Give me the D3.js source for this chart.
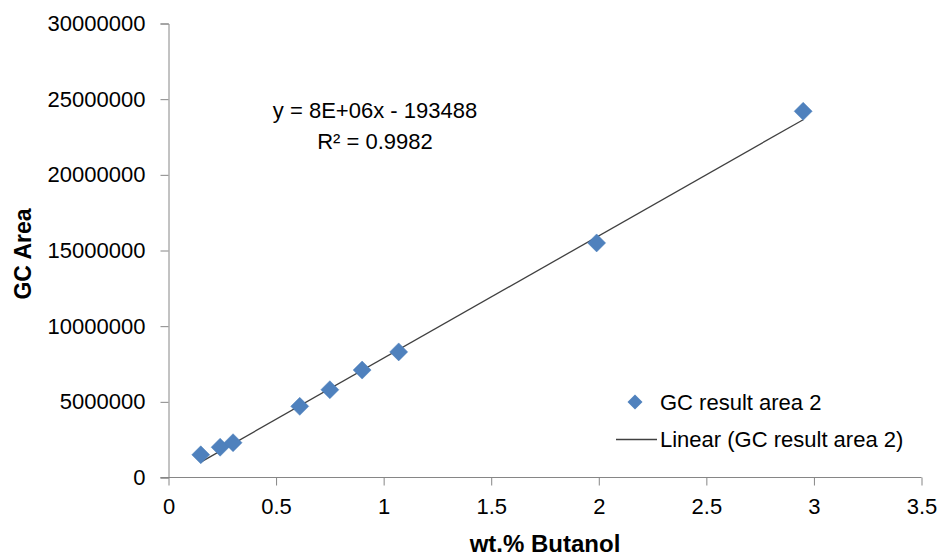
<!DOCTYPE html>
<html><head><meta charset="utf-8">
<script src="https://cdn.jsdelivr.net/npm/d3@7"></script>
<style>
body{margin:0;background:#fff;}
text{font-family:"Liberation Sans",Arial,sans-serif;}
</style></head>
<body><svg id="c" width="943" height="558"></svg>
<script>
const xValues = [0.15, 0.24, 0.30, 0.61, 0.75, 0.90, 1.07, 1.99, 2.95];
const yValues = [1500000, 2000000, 2300000, 4700000, 5800000, 7100000, 8300000, 15500000, 24200000];
const xTicks = [0, 0.5, 1, 1.5, 2, 2.5, 3, 3.5];
const yTicks = [0, 5000000, 10000000, 15000000, 20000000, 25000000, 30000000];
const trendSlope = 8080000;
const trendIntercept = -193488;
const equationLabel = "y = 8E+06x - 193488";
const r2Label = "R² = 0.9982";
const seriesName = "GC result area 2";
const trendName = "Linear (GC result area 2)";
const xTitle = "wt.% Butanol";
const yTitle = "GC Area";

const svg = d3.select("#c");
const x = d3.scaleLinear().domain([0, 3.5]).range([168.5, 921.5]);
const y = d3.scaleLinear().domain([0, 30000000]).range([477.5, 23.5]);
const axisColor = "#868686";

// y axis
const ya = svg.append("g").attr("transform", "translate(168.5,0)")
  .call(d3.axisLeft(y).tickValues(yTicks).tickSize(8).tickPadding(15).tickFormat(d3.format("d")));
ya.select(".domain").attr("stroke", axisColor);
ya.selectAll(".tick line").attr("stroke", axisColor);
ya.selectAll("text").attr("font-size", 22).attr("fill", "#000").attr("font-family", "Liberation Sans, Arial, sans-serif");

// x axis
const xa = svg.append("g").attr("transform", "translate(0,477.5)")
  .call(d3.axisBottom(x).tickValues(xTicks).tickSize(8).tickPadding(13).tickSizeOuter(0).tickFormat(d => String(d)));
xa.select(".domain").attr("stroke", axisColor).attr("d", `M160.5,0H${x(3.5)}`);
xa.selectAll(".tick line").attr("stroke", axisColor);
xa.selectAll("text").attr("font-size", 22).attr("fill", "#000").attr("font-family", "Liberation Sans, Arial, sans-serif");

// trendline
const x0 = d3.min(xValues), x1 = d3.max(xValues);
svg.append("line")
  .attr("x1", x(x0)).attr("y1", y(trendSlope * x0 + trendIntercept))
  .attr("x2", x(x1)).attr("y2", y(trendSlope * x1 + trendIntercept))
  .attr("stroke", "#404040").attr("stroke-width", 1.3);

// points
const diamond = r => `M0,${-r}L${r},0L0,${r}L${-r},0Z`;
svg.append("g").selectAll("path").data(xValues.map((v, i) => [v, yValues[i]]))
  .join("path")
  .attr("transform", d => `translate(${x(d[0])},${y(d[1])})`)
  .attr("d", diamond(9))
  .attr("fill", "#4F81BD").attr("stroke", "#4A7EBB").attr("stroke-width", 0.5);

// equation
svg.append("text").attr("x", 375).attr("y", 118).attr("text-anchor", "middle")
  .attr("font-size", 22).text(equationLabel);
svg.append("text").attr("x", 375).attr("y", 149).attr("text-anchor", "middle")
  .attr("font-size", 22).text(r2Label);

// legend
svg.append("path").attr("transform", "translate(635,402)").attr("d", diamond(7.5)).attr("fill", "#4F81BD");
svg.append("text").attr("x", 660).attr("y", 410).attr("font-size", 22).text(seriesName);
svg.append("line").attr("x1", 616).attr("x2", 657).attr("y1", 439.5).attr("y2", 439.5).attr("stroke", "#404040").attr("stroke-width", 1.3);
svg.append("text").attr("x", 660).attr("y", 447).attr("font-size", 22).text(trendName);

// titles
svg.append("text").attr("x", 545).attr("y", 552).attr("text-anchor", "middle")
  .attr("font-size", 24).attr("font-weight", "bold").text(xTitle);
svg.append("text").attr("transform", "translate(31,254) rotate(-90)").attr("text-anchor", "middle")
  .attr("font-size", 23).attr("font-weight", "bold").text(yTitle);
</script></body></html>
